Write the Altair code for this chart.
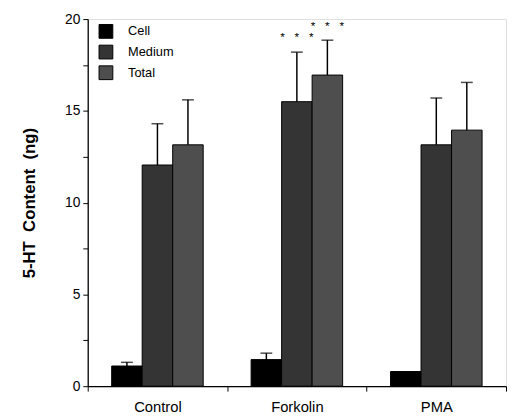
import altair as alt
import pandas as pd

categories = ["Control", "Forkolin", "PMA"]
series = ["Cell", "Medium", "Total"]
cell_vals = [1.1, 1.45, 0.8]
cell_err = [0.2, 0.35, 0.0]
medium_vals = [12.05, 15.5, 13.15]
medium_err = [2.25, 2.7, 2.55]
total_vals = [13.15, 16.95, 13.95]
total_err = [2.45, 1.9, 2.6]
star_category = ["Forkolin", "Forkolin"]
star_series = ["Medium", "Total"]
star_y = [19.0, 19.6]
y_ticks = [0, 2.5, 5, 7.5, 10, 12.5, 15, 17.5, 20]

rows = []
for s, vals, errs in [("Cell", cell_vals, cell_err), ("Medium", medium_vals, medium_err), ("Total", total_vals, total_err)]:
    for c, v, e in zip(categories, vals, errs):
        rows.append({"group": c, "series": s, "value": v, "err": e, "top": v + e})
df = pd.DataFrame(rows)
stars = pd.DataFrame({"group": star_category, "series": star_series, "y": star_y,
                      "txt": ["*\u00a0\u00a0\u00a0*\u00a0\u00a0\u00a0*"] * 2})

FONT = "Liberation Sans"
x_enc = alt.X("group:N", sort=categories, scale=alt.Scale(paddingInner=0, paddingOuter=0),
              axis=alt.Axis(title=None, labelAngle=0, tickBand="extent", labelFont=FONT,
                            labelFontSize=15, labelColor="black", tickColor="black",
                            tickSize=5, labelPadding=9, domainColor="black", domainWidth=1.3))
xoff = alt.XOffset("series:N", sort=series, scale=alt.Scale(paddingInner=0, paddingOuter=0.785))
y_scale = alt.Scale(domain=[0, 20], nice=False)

bars = alt.Chart(df).mark_bar(stroke="black", strokeWidth=1).encode(
    x=x_enc,
    xOffset=xoff,
    y=alt.Y("value:Q", scale=y_scale,
            axis=alt.Axis(values=y_ticks, labelExpr="datum.value % 5 == 0 ? datum.label : ''",
                          title="5-HT\u00a0\u00a0Content\u00a0\u00a0(ng)", titleFont=FONT,
                          titleFontSize=17, titleFontWeight="bold", titleColor="black",
                          titlePadding=26, labelFont=FONT, labelFontSize=14, labelColor="black",
                          tickColor="black", tickSize=5, labelPadding=3, grid=False,
                          domainColor="black", domainWidth=1.3)),
    color=alt.Color("series:N", sort=series,
                    scale=alt.Scale(domain=series, range=["#000000", "#343434", "#4e4e4e"]),
                    legend=alt.Legend(title=None, orient="none", legendX=11, legendY=5,
                                      symbolType="square", symbolSize=196,
                                      symbolStrokeColor="black", symbolStrokeWidth=1,
                                      symbolOpacity=1, labelFont=FONT, labelFontSize=13,
                                      labelColor="black", labelOffset=15, rowPadding=2,
                                      padding=0)),
)

err_df = df[df["err"] > 0]
rules = alt.Chart(err_df).mark_rule(color="black", strokeWidth=1.5).encode(
    x=alt.X("group:N", sort=categories), xOffset=xoff,
    y=alt.Y("value:Q", scale=y_scale), y2="top:Q",
)
caps = alt.Chart(err_df).mark_tick(color="black", thickness=1.5, size=12, orient="horizontal").encode(
    x=alt.X("group:N", sort=categories), xOffset=xoff,
    y=alt.Y("top:Q", scale=y_scale),
)
star_marks = alt.Chart(stars).mark_text(font=FONT, fontSize=12, color="black", baseline="middle").encode(
    x=alt.X("group:N", sort=categories), xOffset=xoff,
    y=alt.Y("y:Q", scale=y_scale), text="txt:N",
)

chart = alt.layer(bars, rules, caps, star_marks).properties(
    width=425, height=373,
    autosize=alt.AutoSizeParams(type="none"),
    padding={"left": 81, "top": 8, "right": 1, "bottom": 26},
).configure_view(stroke=None).configure(background="white")

chart.save("out.html", embed_options={"renderer": "svg", "actions": False})
